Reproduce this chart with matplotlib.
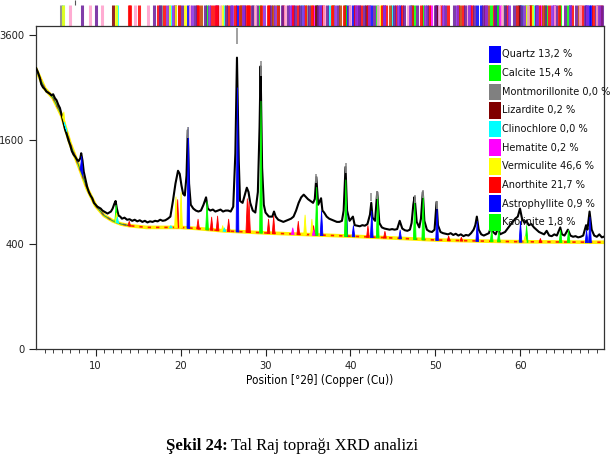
import numpy as np
import matplotlib as mpl
import matplotlib.pyplot as plt
from matplotlib import font_manager
from matplotlib.patches import Rectangle

# pick a narrow sans font if one is installed
cond = font_manager.FontProperties(family='DejaVu Sans', stretch='condensed')
cond_path = font_manager.findfont(cond)
if 'Condensed' in cond_path:
  sans, stretch, fs, lfs = 'DejaVu Sans', 'condensed', 8, 7.8
else:
  sans, stretch, fs, lfs = 'Liberation Sans', 'normal', 7.6, 7.2

# observed pattern (2theta, counts)
obs_x = [3.0, 3.2, 3.4, 3.6, 3.8, 4.0, 4.2, 4.4, 4.6, 4.8, 5.0, 5.2, 5.4, 5.6, 5.8, 6.0, 6.2, 6.4, 6.6, 6.8,
         7.0, 7.2, 7.4, 7.6, 7.8, 8.0, 8.2, 8.3, 8.45, 8.6, 8.8, 9.0, 9.2, 9.4, 9.6, 9.8, 10.0, 10.2, 10.4, 10.6,
         10.8, 11.0, 11.2, 11.4, 11.6, 11.8, 12.0, 12.2, 12.35, 12.5, 12.7, 12.9, 13.1, 13.4, 13.7, 14.0, 14.3, 14.6, 14.9, 15.2,
         15.5, 15.8, 16.1, 16.4, 16.7, 17.0, 17.3, 17.6, 17.9, 18.2, 18.5, 18.8, 19.1, 19.4, 19.7, 19.9, 20.1, 20.3, 20.5, 20.7,
         20.85, 21.0, 21.2, 21.5, 21.8, 22.1, 22.4, 22.7, 23.0, 23.2, 23.5, 23.8, 24.1, 24.4, 24.7, 25.0, 25.3, 25.6, 25.9, 26.2,
         26.45, 26.64, 26.85, 27.0, 27.3, 27.6, 27.8, 28.0, 28.2, 28.5, 28.8, 29.1, 29.3, 29.42, 29.6, 29.8, 30.0, 30.4, 30.8, 31.0,
         31.2, 31.5, 31.8, 32.1, 32.4, 32.7, 33.0, 33.3, 33.6, 33.9, 34.2, 34.5, 34.8, 35.0, 35.3, 35.6, 35.8, 35.98, 36.2, 36.54,
         36.7, 36.9, 37.2, 37.5, 37.8, 38.1, 38.4, 38.7, 39.0, 39.2, 39.42, 39.6, 39.9, 40.29, 40.5, 40.8, 41.1, 41.4, 41.7, 42.0,
         42.3, 42.45, 42.6, 42.9, 43.15, 43.4, 43.7, 44.0, 44.3, 44.6, 44.9, 45.2, 45.5, 45.8, 46.1, 46.4, 46.7, 47.0, 47.2, 47.4,
         47.55, 47.8, 48.1, 48.3, 48.52, 48.7, 49.0, 49.3, 49.6, 49.9, 50.14, 50.3, 50.6, 50.9, 51.2, 51.5, 51.8, 52.1, 52.4, 52.7,
         53.0, 53.3, 53.6, 53.9, 54.2, 54.5, 54.7, 54.88, 55.1, 55.4, 55.7, 56.0, 56.3, 56.6, 56.8, 57.1, 57.4, 57.6, 57.9, 58.2,
         58.5, 58.8, 59.1, 59.4, 59.7, 59.96, 60.2, 60.5, 60.7, 61.0, 61.3, 61.6, 61.9, 62.2, 62.5, 62.8, 63.1, 63.4, 63.7, 64.0,
         64.3, 64.7, 64.9, 65.2, 65.6, 65.9, 66.2, 66.5, 66.8, 67.1, 67.4, 67.74, 67.9, 68.15, 68.4, 68.7, 69.0, 69.3, 69.6, 69.8]
obs_y = [2880, 2800, 2700, 2560, 2500, 2470, 2420, 2400, 2380, 2350, 2370, 2300, 2260, 2180, 2120, 2000, 1880, 1760, 1680, 1590,
         1520, 1430, 1380, 1350, 1310, 1290, 1330, 1400, 1300, 1150, 1050, 960, 900, 860, 830, 780, 760, 740, 730, 720,
         700, 690, 680, 670, 680, 690, 720, 770, 800, 720, 650, 640, 620, 630, 610, 615, 600, 610, 595, 605,
         590, 600, 585, 595, 590, 600, 595, 610, 600, 605, 620, 640, 800, 1000, 1160, 1120, 980, 880, 860, 1100,
         1750, 1000, 760, 720, 700, 690, 700, 760, 840, 720, 700, 710, 690, 700, 710, 690, 700, 700, 690, 740,
         1400, 3100, 1300, 800, 780, 880, 950, 900, 780, 700, 680, 900, 1800, 2920, 1200, 760, 680, 640, 640, 690,
         640, 610, 600, 590, 600, 610, 620, 640, 700, 780, 840, 870, 840, 820, 800, 780, 820, 1080, 760, 830,
         700, 680, 640, 620, 610, 600, 590, 590, 600, 700, 1210, 700, 600, 640, 560, 555, 550, 560, 555, 570,
         660, 780, 630, 600, 900, 580, 540, 530, 525, 520, 525, 520, 525, 600, 530, 515, 510, 520, 580, 760,
         845, 590, 540, 620, 900, 600, 520, 505, 500, 520, 790, 560, 500, 490, 485, 480, 490, 475, 485, 470,
         480, 465, 475, 470, 490, 520, 560, 640, 520, 480, 470, 480, 490, 560, 500, 480, 540, 480, 490, 500,
         530, 560, 590, 620, 640, 720, 620, 580, 600, 560, 570, 540, 520, 500, 490, 480, 510, 470, 465, 480,
         470, 540, 480, 470, 520, 470, 460, 465, 455, 460, 470, 560, 520, 690, 520, 470, 460, 480, 455, 460]

# background curve
bg_x = [3.0, 4.0, 5.0, 6.0, 7.0, 8.0, 9.0, 10.0, 11.0, 12.0, 13.0, 14.0, 16.0, 18.0, 20.0, 22.0, 25.0, 30.0,
        35.0, 40.0, 45.0, 50.0, 55.0, 60.0, 65.0, 69.8]
bg_y = [2850, 2480, 2300, 1990, 1540, 1230, 940, 750, 650, 600, 570, 555, 540, 540, 540, 530, 510, 492,
        478, 465, 450, 434, 426, 420, 418, 416]

# phase profile peaks (position, top in counts)
phase_peaks = {
  'blue':    [(8.3, 1360), (20.86, 1800), (26.64, 2500), (36.54, 700), (39.46, 800), (40.29, 560), (42.45, 700),
              (45.79, 520), (50.14, 720), (54.87, 600), (59.96, 600), (67.74, 520), (68.14, 640)],
  'lime':    [(12.36, 760), (23.06, 800), (29.41, 2250), (35.97, 960), (39.40, 1050), (43.15, 860), (47.51, 800),
              (48.51, 860), (56.57, 530), (57.41, 520), (60.68, 560), (64.68, 520), (65.62, 520)],
  'red':     [(13.9, 600), (19.6, 820), (22.0, 620), (23.6, 640), (24.3, 650), (25.6, 620), (27.8, 830), (28.0, 800),
              (30.3, 620), (30.9, 650), (33.8, 600), (35.6, 560), (42.0, 560), (44.0, 510), (51.5, 470), (53.0, 460),
              (62.3, 450)],
  'yellow':  [(6.2, 2060), (12.4, 680), (19.4, 850), (20.0, 900), (24.9, 560), (34.6, 660), (35.4, 620), (60.5, 470)],
  'magenta': [(33.15, 540), (35.61, 520)],
  'cyan':    [(6.4, 1800), (12.5, 640), (18.8, 560), (25.1, 540)],
}
calc_tops = [(20.86, 1800), (26.64, 3770), (29.42, 3020), (35.98, 1120), (39.42, 1260), (42.45, 890),
             (43.15, 910), (47.55, 870), (48.52, 920), (50.14, 800)]

# reference line positions (top strip)
ref_lines = {
  '#0000ff': [20.86, 26.64, 36.54, 39.47, 40.29, 42.45, 45.79, 50.14, 54.87, 55.33, 57.24, 59.96, 63.99, 65.79,
              67.74, 68.14, 68.31],
  '#00ff00': [23.06, 29.41, 31.44, 35.97, 39.40, 43.16, 47.12, 47.51, 48.51, 56.57, 57.41, 58.09, 60.68, 61.01,
              61.40, 63.08, 64.68, 65.62],
  '#808080': [5.9, 17.7, 19.8, 28.5, 34.9, 36.1, 53.9, 61.9],
  '#800000': [12.1, 19.4, 24.3, 35.9, 38.0, 41.8, 50.1, 59.9, 61.3],
  '#00ffff': [6.2, 12.5, 18.8, 25.1, 31.5, 34.3, 37.5, 44.9, 59.6, 60.2, 61.5],
  '#ff00ff': [24.14, 33.15, 35.61, 40.85, 49.48, 54.09, 57.59, 62.45, 63.99],
  '#ffff00': [6.2, 12.4, 18.6, 19.4, 20.5, 24.9, 25.4, 31.2, 34.6, 35.4, 37.9, 43.6, 60.5, 61.4],
  '#ff0000': [13.87, 13.99, 15.16, 17.3, 18.05, 19.79, 21.98, 22.04, 23.56, 23.98, 24.29, 25.62, 26.37, 26.98,
              27.76, 27.93, 28.11, 29.47, 30.29, 30.46, 31.42, 32.01, 33.21, 33.81, 34.67, 35.46, 36.75, 37.88,
              39.25, 40.49, 41.23, 42.02, 43.66, 44.24, 45.35, 46.1, 47.3, 48.3, 49.24, 50.68, 51.45, 52.68,
              53.21, 54.28, 55.8, 56.9, 58.45, 59.64, 61.08, 62.23, 63.4, 64.55, 66.1, 67.3, 68.6, 69.5],
  '#6a1b9a': [8.4, 10.1, 16.9, 17.6, 20.2, 21.7, 22.9, 25.4, 25.9, 27.5, 28.4, 29.0, 30.6, 31.9, 32.6, 33.5,
              34.1, 35.1, 36.2, 37.2, 38.5, 39.8, 41.0, 41.6, 42.8, 44.0, 45.1, 46.3, 47.8, 49.0, 49.9, 51.1,
              52.2, 53.5, 54.6, 55.6, 57.0, 58.2, 59.2, 60.1, 61.8, 62.9, 64.2, 65.2, 66.5, 67.6, 68.9, 69.6],
  '#c04000': [22.4, 27.1, 30.9, 38.8, 44.6, 52.9, 56.2, 62.7, 66.9, 69.2],
  '#ff9ecb': [7.0, 9.3, 10.8, 14.6, 16.2, 21.1, 24.6, 28.8, 32.3, 36.9, 40.0, 43.3, 46.8, 50.4, 53.8, 57.8,
              60.9, 64.0, 67.0, 69.0],
  '#8a2be2': [18.4, 19.1, 21.4, 23.3, 26.0, 27.3, 29.8, 31.1, 32.9, 34.4, 36.4, 38.2, 40.7, 42.2, 43.9, 45.6,
              47.0, 48.8, 50.9, 52.5, 54.0, 56.0, 58.7, 60.4, 62.0, 63.7, 65.9, 67.9, 69.3],
}

legend_names = ['Quartz 13,2 %', 'Calcite 15,4 %', 'Montmorillonite 0,0 %', 'Lizardite 0,2 %',
                'Clinochlore 0,0 %', 'Hematite 0,2 %', 'Vermiculite 46,6 %', 'Anorthite 21,7 %',
                'Astrophyllite 0,9 %', 'Kaolinite 1,8 %']
legend_colors = ['#0000ff', '#00ff00', '#808080', '#800000', '#00ffff', '#ff00ff', '#ffff00', '#ff0000',
                 '#0000ff', '#00ff00']

mpl.rcParams.update({'font.family': sans, 'font.stretch': stretch, 'font.size': fs})

W, H = 612, 454
fig = plt.figure(figsize=(W / 100, H / 100), dpi=100)
ax = fig.add_axes([36 / W, 1 - 349 / H, 568 / W, 323 / H])
ax.set_yscale('function', functions=(lambda v: np.sqrt(np.clip(v, 0, None)), lambda v: v ** 2))

# background
ax.plot(bg_x, bg_y, color='#ffee00', lw=2.6, zorder=2)
ax.plot(bg_x, bg_y, color='#ff2000', lw=1.2, dashes=(2, 3), zorder=2)
ax.plot(bg_x[:12], bg_y[:12], color='#2e8b57', lw=0.8, zorder=2)

# observed pattern
ax.plot(obs_x, obs_y, color='black', lw=1.5, zorder=3)

# phase profiles
w = 0.16
for col, peaks in phase_peaks.items():
  for p, top in peaks:
    xs = [p - w, p, p + w]
    base = np.interp(xs, bg_x, bg_y)
    ax.fill_between(xs, base, [base[0], top, base[2]], color=col, lw=0.6, edgecolor=col, zorder=4)

for p, top in calc_tops:
  ax.vlines(p, top * 0.9, top, color='#909090', lw=1.2, zorder=4)

# top reference strip
for col, pos in ref_lines.items():
  ax.vlines(pos, 1.0, 1.066, color=col, lw=2.2, alpha=0.85,
            transform=ax.get_xaxis_transform(), clip_on=False)
ax.vlines([7.6], 1.066, 1.08, color='#555555', lw=0.8, transform=ax.get_xaxis_transform(), clip_on=False)

ax.set_xlim(2.98, 69.85)
ax.set_ylim(0, 3810)
ax.set_yticks([0, 400, 1600, 3600])
ax.set_yticklabels(['0', '400', '1600', '3600'])
ax.set_xticks([10, 20, 30, 40, 50, 60])
ax.set_xticks(np.arange(4, 70, 1), minor=True)
ax.tick_params(axis='both', which='major', direction='out', length=5, width=0.8, labelsize=fs, colors='#222222')
ax.tick_params(axis='x', which='minor', direction='out', length=3, width=0.6, colors='#222222')
ax.tick_params(axis='y', which='minor', left=False)
for s in ax.spines.values():
  s.set_linewidth(0.9)
  s.set_color('#333333')
ax.set_xlabel('Position [°2θ] (Copper (Cu))', fontsize=fs + 0.5, labelpad=2)

# legend
for i, (name, col) in enumerate(zip(legend_names, legend_colors)):
  yc = 54.5 + 18.65 * i
  fig.add_artist(Rectangle((489 / W, 1 - (yc + 8.3) / H), 12 / W, 16.6 / H, transform=fig.transFigure,
                           facecolor=col, edgecolor='none', zorder=10))
  fig.text(502 / W, 1 - yc / H, name, fontsize=lfs, va='center', ha='left', color='#111111', zorder=11)

# caption
t1 = fig.text(166 / W, 4.5 / H, 'Şekil 24:', family='Liberation Serif', stretch='normal', fontsize=12,
              weight='bold', va='baseline')
fig.canvas.draw()
bb = t1.get_window_extent()
fig.text((bb.x1 + 3) / W, 4.5 / H, 'Tal Raj toprağı XRD analizi', family='Liberation Serif', stretch='normal',
         fontsize=12, va='baseline')

fig.savefig('out.png', dpi=100)
